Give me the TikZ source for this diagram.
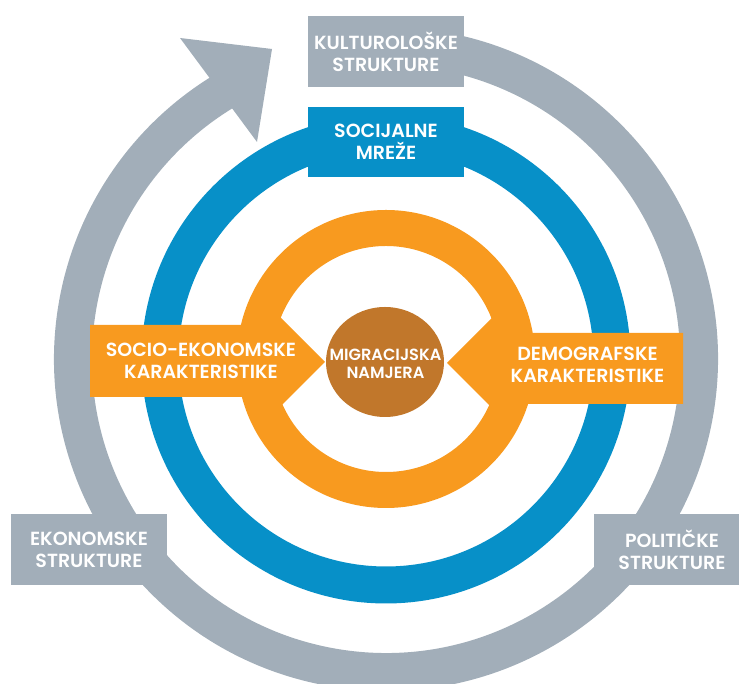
\documentclass[tikz,border=0pt]{standalone}
\usepackage{fontspec}
\newfontfamily\labelfont{Poppins SemiBold}
\usetikzlibrary{shapes.geometric}

\definecolor{ringgrey}{HTML}{A2AEB9}
\definecolor{ringblue}{HTML}{0790C8}
\definecolor{ringorange}{HTML}{F89A1F}
\definecolor{corebrown}{HTML}{C1772B}

\tikzset{
    boxtext/.style={text=white, align=center, inner sep=0pt,
        font=\labelfont\fontsize{19}{21.7}\selectfont},
    greybox/.style={boxtext, fill=ringgrey, minimum width=156pt, minimum height=71pt},
    bluebox/.style={boxtext, fill=ringblue, minimum width=156pt, minimum height=70pt}
}

\begin{document}
\begin{tikzpicture}[x=1pt,y=1pt]
    \useasboundingbox (0,0) rectangle (739,684);

    % Ring parameters
    \def\rg{313} % radius of the grey ring
    \def\rb{226} % radius of the blue ring
    \def\ro{131} % radius of the orange ring

    % Centre of the rings
    \coordinate (O) at (386,325);

    % Grey ring, clockwise from the top box round to the arrow
    \draw[ringgrey, line width=38pt] ([shift={(80:\rg)}]O) arc[start angle=80, end angle=-239, radius=\rg];

    % Arrow head at the end of the grey ring
    \coordinate (A1) at (180,646);
    \coordinate (A2) at (272,635);
    \coordinate (A3) at (257,542);
    \fill[ringgrey] (A1) -- (A2) -- (A3) -- cycle;

    % Grey boxes on the outer ring
    \node[greybox] (kultur) at (386,632.5) {KULTUROLOŠKE\\STRUKTURE};
    \node[greybox] (ekonom) at (89,134.5) {EKONOMSKE\\STRUKTURE};
    \node[greybox, minimum width=145pt] (politik) at (666.5,134.5) {\hspace*{11pt}POLITIČKE\\\hspace*{11pt}STRUKTURE};

    % Blue ring and its box
    \draw[ringblue, line width=37pt] (O) circle (\rb);
    \node[bluebox] (mreze) at (386,542) {SOCIJALNE\\MREŽE};

    % Orange ring
    \draw[ringorange, line width=36pt] (O) circle (\ro);

    % Left orange box with its arrow
    \fill[ringorange] (90,359) -- (258,359) -- (258,389) -- (325,322) -- (258,255) -- (258,287) -- (90,287) -- cycle;
    % Right orange box with its arrow
    \fill[ringorange] (683,351) -- (512,351) -- (512,386) -- (447,321) -- (512,256) -- (512,280) -- (683,280) -- cycle;

    % Core circle
    \node[ellipse, fill=corebrown, minimum width=118pt, minimum height=110pt, inner sep=0pt] (core) at (385,322) {};
    \node[boxtext, font=\labelfont\fontsize{16.2}{18}\selectfont] (namjera) at (385.5,320) {MIGRACIJSKA\\NAMJERA};

    % Labels of the orange boxes
    \node[boxtext] (socio) at (201,323.5) {SOCIO-EKONOMSKE\\KARAKTERISTIKE};
    \node[boxtext] (demo) at (587.5,319.5) {DEMOGRAFSKE\\KARAKTERISTIKE};

\end{tikzpicture}
\end{document}
